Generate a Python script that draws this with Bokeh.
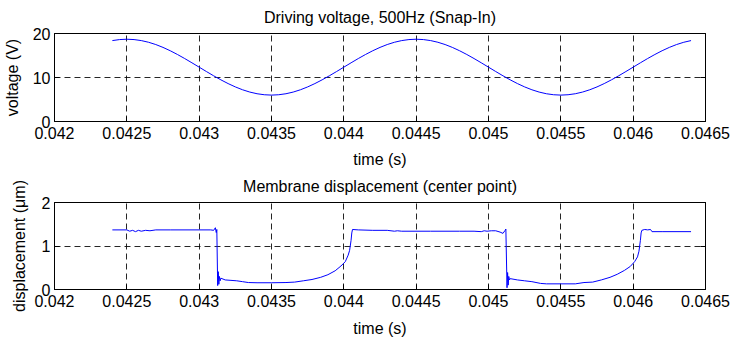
from bokeh.plotting import figure
from bokeh.layouts import column
from bokeh.models import Range1d, FixedTicker, ColumnDataSource, LinearAxis
from bokeh.embed import file_html
from bokeh.resources import INLINE

# ---------------- data ----------------
voltage_time = [
    0.04240, 0.04245, 0.04250, 0.04255, 0.04260, 0.04265, 0.04270, 0.04275, 0.04280, 0.04285,
    0.04290, 0.04295, 0.04300, 0.04305, 0.04310, 0.04315, 0.04320, 0.04325, 0.04330, 0.04335,
    0.04340, 0.04345, 0.04350, 0.04355, 0.04360, 0.04365, 0.04370, 0.04375, 0.04380, 0.04385,
    0.04390, 0.04395, 0.04400, 0.04405, 0.04410, 0.04415, 0.04420, 0.04425, 0.04430, 0.04435,
    0.04440, 0.04445, 0.04450, 0.04455, 0.04460, 0.04465, 0.04470, 0.04475, 0.04480, 0.04485,
    0.04490, 0.04495, 0.04500, 0.04505, 0.04510, 0.04515, 0.04520, 0.04525, 0.04530, 0.04535,
    0.04540, 0.04545, 0.04550, 0.04555, 0.04560, 0.04565, 0.04570, 0.04575, 0.04580, 0.04585,
    0.04590, 0.04595, 0.04600, 0.04605, 0.04610, 0.04615, 0.04620, 0.04625, 0.04630, 0.04635,
    0.04640,
]
voltage_values = [
    18.39, 18.62, 18.70, 18.62, 18.39, 18.01, 17.49, 16.84, 16.08, 15.23,
    14.31, 13.34, 12.35, 11.36, 10.39, 9.47, 8.62, 7.86, 7.21, 6.69,
    6.31, 6.08, 6.00, 6.08, 6.31, 6.69, 7.21, 7.86, 8.62, 9.47,
    10.39, 11.36, 12.35, 13.34, 14.31, 15.23, 16.08, 16.84, 17.49, 18.01,
    18.39, 18.62, 18.70, 18.62, 18.39, 18.01, 17.49, 16.84, 16.08, 15.23,
    14.31, 13.34, 12.35, 11.36, 10.39, 9.47, 8.62, 7.86, 7.21, 6.69,
    6.31, 6.08, 6.00, 6.08, 6.31, 6.69, 7.21, 7.86, 8.62, 9.47,
    10.39, 11.36, 12.35, 13.34, 14.31, 15.23, 16.08, 16.84, 17.49, 18.01,
    18.39,
]

disp_time = [
    0.04240, 0.04250, 0.04252, 0.04254, 0.04256, 0.04258, 0.04260, 0.04263, 0.04266, 0.04270,
    0.04280, 0.04300, 0.04308, 0.04310, 0.043112, 0.043118, 0.043122, 0.043128, 0.043132, 0.043136,
    0.04314, 0.043145, 0.04315, 0.04318, 0.04322, 0.04326, 0.04330, 0.04334, 0.04340, 0.04350,
    0.04360, 0.04366, 0.04372, 0.04378, 0.04384, 0.04389, 0.04394, 0.04398, 0.04401, 0.04403,
    0.04404, 0.04405, 0.044055, 0.04406, 0.04410, 0.04420, 0.04430, 0.04435, 0.04437, 0.04440,
    0.04460, 0.04480, 0.04490, 0.04495, 0.04497, 0.04499, 0.04502, 0.04505, 0.04508, 0.04510,
    0.045115, 0.04512, 0.045128, 0.045132, 0.045136, 0.04514, 0.045145, 0.04515, 0.04520, 0.04525,
    0.04530, 0.04536, 0.04540, 0.04550, 0.04560, 0.04566, 0.04572, 0.04578, 0.04584, 0.04589,
    0.04594, 0.04598, 0.04601, 0.04603, 0.04604, 0.04605, 0.046055, 0.04606, 0.04608, 0.04610,
    0.04612, 0.04613, 0.04620, 0.04640,
]
disp_values = [
    1.37, 1.37, 1.34, 1.36, 1.33, 1.36, 1.34, 1.36, 1.35, 1.37,
    1.37, 1.37, 1.37, 1.36, 1.42, 1.31, 1.38, 0.09, 0.41, 0.12,
    0.30, 0.20, 0.26, 0.22, 0.21, 0.20, 0.18, 0.16, 0.155, 0.155,
    0.16, 0.17, 0.20, 0.23, 0.28, 0.34, 0.43, 0.54, 0.64, 0.79,
    0.90, 1.13, 1.30, 1.38, 1.37, 1.36, 1.36, 1.34, 1.35, 1.34,
    1.34, 1.34, 1.34, 1.33, 1.35, 1.34, 1.35, 1.35, 1.32, 1.29,
    1.36, 1.39, 0.04, 0.39, 0.10, 0.30, 0.22, 0.25, 0.22, 0.20,
    0.18, 0.14, 0.13, 0.13, 0.13, 0.16, 0.17, 0.22, 0.28, 0.35,
    0.44, 0.53, 0.64, 0.75, 0.88, 1.13, 1.30, 1.36, 1.38, 1.37,
    1.38, 1.33, 1.33, 1.33,
]

x_ticks = [0.042, 0.0425, 0.043, 0.0435, 0.044, 0.0445, 0.045, 0.0455, 0.046, 0.0465]
x_tick_labels = ["0.042", "0.0425", "0.043", "0.0435", "0.044",
                 "0.0445", "0.045", "0.0455", "0.046", "0.0465"]
voltage_ticks = [0, 10, 20]
disp_ticks = [0, 1, 2]

titles = ["Driving voltage, 500Hz (Snap-In)", "Membrane displacement (center point)"]
y_labels = ["voltage (V)", "displacement (\u03bcm)"]
x_label = "time (s)"

# ---------------- styling ----------------
FONT = "Liberation Sans"
FS = "16px"
LINE_COLOR = "#0000ff"


def make_panel(title, ylabel, xs, ys, yticks, height, top, bottom,
               title_lift, xlabel_standoff, ylabel_standoff):
    p = figure(width=735, height=height, output_backend="svg", toolbar_location=None,
               x_range=Range1d(x_ticks[0], x_ticks[-1]),
               y_range=Range1d(yticks[0], yticks[-1]),
               min_border_left=49, min_border_right=30,
               min_border_top=top, min_border_bottom=bottom,
               title=title)
    p.background_fill_color = "white"
    p.border_fill_color = "white"
    p.outline_line_color = "black"
    p.outline_line_width = 1
    p.outline_line_alpha = 1.0

    p.title.align = "center"
    p.title.standoff = 0
    p.title.text_font = FONT
    p.title.text_font_size = FS
    p.title.text_font_style = "normal"
    p.title.text_color = "black"

    src = ColumnDataSource(dict(x=xs, y=ys))
    p.line("x", "y", source=src, line_color=LINE_COLOR, line_width=1)

    xax = p.below[0]
    yax = p.left[0]
    xax.ticker = FixedTicker(ticks=x_ticks)
    xax.major_label_overrides = {t: lab for t, lab in zip(x_ticks, x_tick_labels)}
    yax.ticker = FixedTicker(ticks=yticks)
    xax.axis_label = x_label
    yax.axis_label = ylabel
    for ax in (xax, yax):
        ax.major_label_text_font = FONT
        ax.major_label_text_font_size = FS
        ax.major_label_text_color = "black"
        ax.axis_label_text_font = FONT
        ax.axis_label_text_font_size = FS
        ax.axis_label_text_font_style = "normal"
        ax.axis_label_text_color = "black"
        ax.axis_line_color = "black"
        ax.major_tick_line_color = "black"
        ax.major_tick_in = 5
        ax.major_tick_out = 0
        ax.minor_tick_line_color = None
    xax.major_label_standoff = 5
    yax.major_label_standoff = 4
    xax.axis_label_standoff = xlabel_standoff
    yax.axis_label_standoff = ylabel_standoff

    p.xgrid.ticker = FixedTicker(ticks=x_ticks)
    p.ygrid.ticker = FixedTicker(ticks=yticks)
    for g in (p.xgrid, p.ygrid):
        g.grid_line_color = "black"
        g.grid_line_alpha = 0.85
        g.grid_line_dash = "6 4"
        g.grid_line_width = 1

    # top edge: an unlabeled axis whose (invisible) outward ticks lift the title
    top_axis = LinearAxis(ticker=FixedTicker(ticks=x_ticks))
    top_axis.major_label_text_color = None
    top_axis.major_label_standoff = 0
    top_axis.major_tick_in = 0
    top_axis.major_tick_out = title_lift
    top_axis.major_tick_line_color = None
    top_axis.minor_tick_line_color = None
    top_axis.axis_line_color = "black"
    p.add_layout(top_axis, "above")

    # right edge: MATLAB-style inward ticks, no labels
    right_axis = LinearAxis(ticker=FixedTicker(ticks=yticks))
    right_axis.major_label_text_color = None
    right_axis.major_label_standoff = 0
    right_axis.major_tick_in = 5
    right_axis.major_tick_out = 0
    right_axis.minor_tick_line_color = None
    right_axis.axis_line_color = "black"
    right_axis.major_tick_line_color = "black"
    p.add_layout(right_axis, "right")
    return p


p1 = make_panel(titles[0], y_labels[0], voltage_time, voltage_values,
                voltage_ticks, 170, 33, 49, 8, 9, 9)
p2 = make_panel(titles[1], y_labels[1], disp_time, disp_values,
                disp_ticks, 169, 32, 49, 8, 10, 11)

layout = column(p1, p2, spacing=0)

open("out.html", "w").write(file_html(layout, INLINE))
